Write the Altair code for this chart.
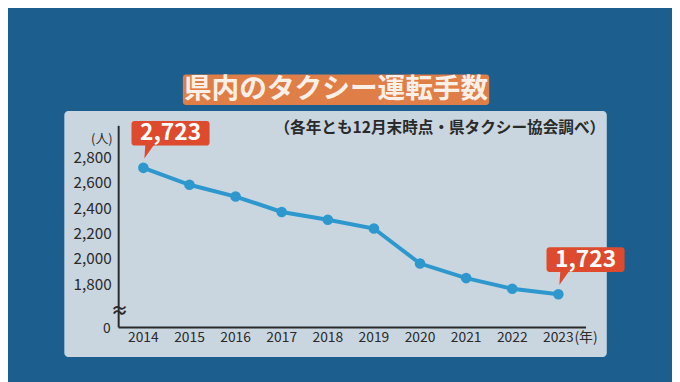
import altair as alt
import pandas as pd

# ---- data ----
years = [2014, 2015, 2016, 2017, 2018, 2019, 2020, 2021, 2022, 2023]
drivers = [2723, 2589, 2496, 2374, 2312, 2243, 1966, 1851, 1767, 1723]
y_ticks = [1800, 2000, 2200, 2400, 2600, 2800]
y_tick_labels = ["1,800", "2,000", "2,200", "2,400", "2,600", "2,800"]
x_tick_labels = ["2014", "2015", "2016", "2017", "2018", "2019", "2020", "2021", "2022", "2023"]
callout_years = [2014, 2023]
title_text = "県内のタクシー運転手数"
note_text = "（各年とも12月末時点・県タクシー協会調べ）"
unit_y = "(人)"
unit_x = "(年)"
zero_label = "0"
break_mark = "≈"

FONT = "Noto Sans CJK JP"
BG = "#1C5E8E"
PANEL = "#C9D6DF"
ORANGE = "#E07E48"
RED = "#DE4A2E"
LINE = "#2E98CE"
INK = "#2A2A2A"

df = pd.DataFrame({"year": years, "v": drivers})
df["label"] = [f"{v:,}" for v in drivers]
call = df[df["year"].isin(callout_years)]
yt = pd.DataFrame({"v": y_ticks, "label": y_tick_labels})
xt = pd.DataFrame({"year": years, "label": x_tick_labels})
one = pd.DataFrame({"k": [0]})

xs = alt.Scale(domain=[2014, 2023], range=[137, 557], zero=False, nice=False)
ys = alt.Scale(domain=[1723, 2723], range=[287.5, 159.5], zero=False, nice=False)
X = alt.X("year:Q", scale=xs, axis=None)
Y = alt.Y("v:Q", scale=ys, axis=None)

panel = alt.Chart(one).mark_rect(color=PANEL, cornerRadius=4).encode(
    x=alt.value(57), x2=alt.value(606), y=alt.value(102), y2=alt.value(351))
title_box = alt.Chart(one).mark_rect(color=ORANGE, cornerRadius=3).encode(
    x=alt.value(177), x2=alt.value(487), y=alt.value(65), y2=alt.value(96))
title = alt.Chart(one).mark_text(text=title_text, font=FONT, fontSize=28, fontWeight="bold",
                                 color="#FBF0E8", align="center", baseline="middle").encode(
    x=alt.value(332), y=alt.value(81))
note = alt.Chart(one).mark_text(text=note_text, font=FONT, fontSize=15.8, fontWeight="bold",
                                color=INK, align="center", baseline="middle").encode(
    x=alt.value(437), y=alt.value(119))

y_axis = alt.Chart(one).mark_rule(color=INK, strokeWidth=2).encode(
    x=alt.value(112), y=alt.value(117), y2=alt.value(321))
x_axis = alt.Chart(one).mark_rule(color=INK, strokeWidth=2).encode(
    x=alt.value(112), x2=alt.value(585), y=alt.value(321))

ylab = alt.Chart(yt).mark_text(font=FONT, fontSize=15.5, color=INK, align="right",
                               baseline="middle").encode(x=alt.value(105), y=Y, text="label:N")
xlab = alt.Chart(xt).mark_text(font=FONT, fontSize=14, color=INK, align="center",
                               baseline="middle").encode(x=X, y=alt.value(332), text="label:N")
unity = alt.Chart(one).mark_text(text=unit_y, font=FONT, fontSize=13, color=INK,
                                 align="center", baseline="middle").encode(x=alt.value(95), y=alt.value(130))
unitx = alt.Chart(one).mark_text(text=unit_x, font=FONT, fontSize=14, color=INK,
                                 align="center", baseline="middle").encode(x=alt.value(585), y=alt.value(332))
zero = alt.Chart(one).mark_text(text=zero_label, font=FONT, fontSize=14, color=INK,
                                align="right", baseline="middle").encode(x=alt.value(104), y=alt.value(323))
brk = alt.Chart(one).mark_text(text=break_mark, font=FONT, fontSize=18, fontWeight="bold", color=INK,
                               align="center", baseline="middle").encode(x=alt.value(113), y=alt.value(305))

line = alt.Chart(df).mark_line(color=LINE, strokeWidth=4).encode(x=X, y=Y)
pts = alt.Chart(df).mark_circle(color=LINE, size=115, opacity=1).encode(x=X, y=Y)

cbox = alt.Chart(call).mark_rect(color=RED, cornerRadius=3, xOffset=-12, x2Offset=67,
                                 yOffset=-47.5, y2Offset=-22.5).encode(
    x=X, x2="year:Q", y=Y, y2="v:Q")
cptr = alt.Chart(call).mark_point(shape="M-0.714,0.929L-0.571,-1.1L0.714,-1.1Z", size=196,
                                  filled=True, color=RED, opacity=1, strokeWidth=0,
                                  xOffset=6, yOffset=-16).encode(x=X, y=Y)
ctext = alt.Chart(call).mark_text(font=FONT, fontSize=23, fontWeight="bold", color="white",
                                  align="center", baseline="middle", dx=27.5, dy=-35).encode(
    x=X, y=Y, text="label:N")

chart = alt.layer(panel, title_box, title, note, y_axis, x_axis, ylab, xlab, unity, unitx,
                  zero, brk, line, pts, cbox, cptr, ctext).properties(
    width=672, height=374, padding=0, autosize=alt.AutoSizeParams(type="none"),
    background=BG).configure_view(stroke=None)

chart.save("out.html", embed_options={"renderer": "svg", "actions": False})
